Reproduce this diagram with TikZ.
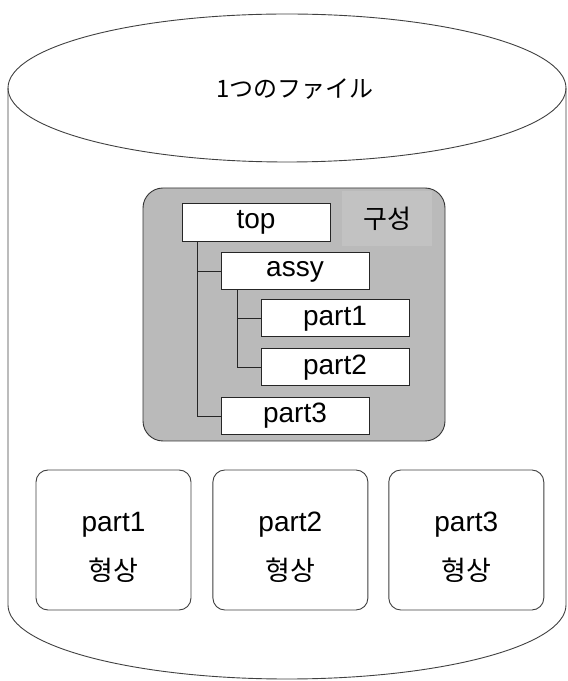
\documentclass[tikz,border=0pt]{standalone}
\usepackage{fontspec}
\setmainfont{Liberation Sans}
\newfontfamily\jpfont{Noto Sans CJK JP}
\newfontfamily\krfont{Noto Sans CJK KR}
\usetikzlibrary{positioning}
\tikzset{
    filebody/.style={
        draw=black!75,
        line width=0.9pt
    },
    config/.style={
        rectangle,
        draw=black!80,
        line width=0.9pt,
        rounded corners=20pt,
        fill=black!27,
        minimum width=302pt,
        minimum height=253pt
    },
    cfgtag/.style={
        rectangle,
        fill=black!24,
        minimum width=90pt,
        minimum height=55pt,
        font=\krfont\fontsize{26}{30}\selectfont
    },
    item/.style={
        rectangle,
        draw=black!85,
        line width=0.9pt,
        fill=white,
        minimum width=148pt,
        minimum height=37pt,
        inner sep=0pt,
        font=\fontsize{28}{32}\selectfont
    },
    shapebox/.style={
        rectangle,
        draw=black!75,
        line width=0.9pt,
        rounded corners=12pt,
        fill=white,
        minimum width=155pt,
        minimum height=140pt,
        align=center,
        font=\fontsize{28}{49}\selectfont
    },
    treeline/.style={
        draw=black!85,
        line width=0.9pt
    }
}
\newcommand{\shapetext}[1]{\rule{0pt}{34pt}#1\\{\krfont\fontsize{27}{49}\selectfont 형상}}

\begin{document}
\begin{tikzpicture}[x=1pt, y=1pt]
\useasboundingbox (0,0) rectangle (568,681);

% the file as a cylinder
\draw[filebody] (287,593) ellipse [x radius=279pt, y radius=74pt];
\draw[filebody] (8,593) -- (8,76) arc[start angle=180, end angle=360, x radius=279pt, y radius=74pt] -- (566,593);
\node[font=\jpfont\fontsize{24}{28}\selectfont] (title) at (295,592) {1つのファイル};

% structure
\node[config] (cfg) at (294,366.5) {};
\node[cfgtag] (cfgname) at (387,462.5) {구성};

\node[item, minimum height=38pt] (top) at (256,459) {top};
\node[item, below=11pt of top, xshift=39pt] (assy) {assy};
\node[item, below=9pt of assy, xshift=40pt] (p1) {part1};
\node[item, below=11pt of p1] (p2) {part2};
\node[item, below=11pt of p2, xshift=-40pt] (p3) {part3};

\draw[treeline] ([xshift=16pt]top.south west) |- (assy.west);
\draw[treeline] ([xshift=16pt]top.south west) |- (p3.west);
\draw[treeline] ([xshift=17pt]assy.south west) |- (p1.west);
\draw[treeline] ([xshift=17pt]assy.south west) |- (p2.west);

% geometry of each part
\node[shapebox] (shp1) at (113.5,141) {\shapetext{part1}};
\node[shapebox, right=21pt of shp1] (shp2) {\shapetext{part2}};
\node[shapebox, right=20pt of shp2] (shp3) {\shapetext{part3}};

\end{tikzpicture}
\end{document}
